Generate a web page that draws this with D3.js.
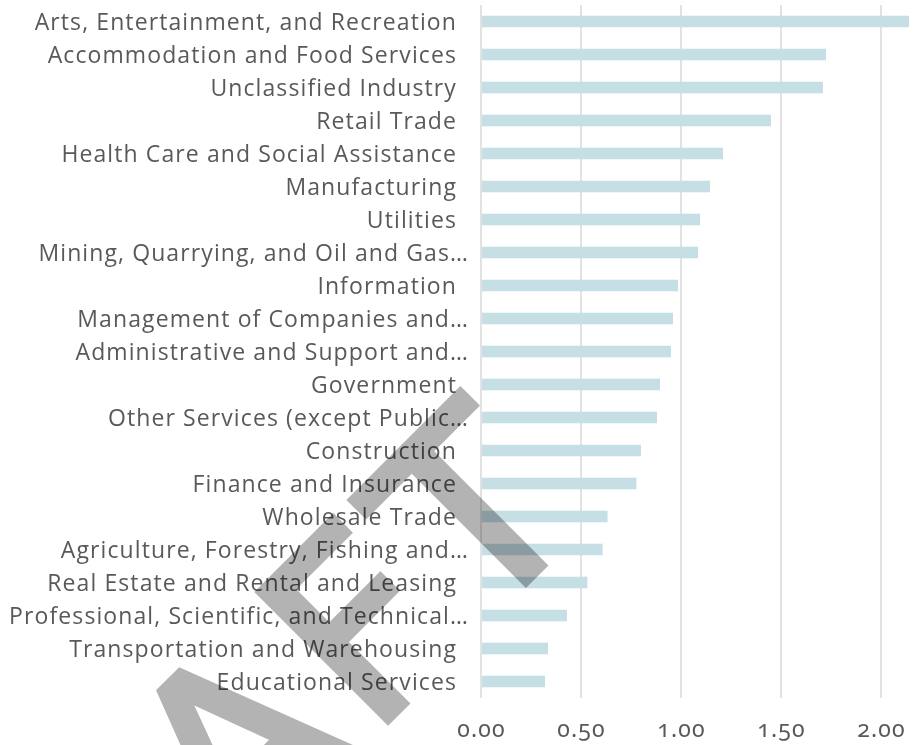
<!DOCTYPE html>
<html>
<head>
<meta charset="utf-8">
<script src="https://cdn.jsdelivr.net/npm/d3@7"></script>
<style>
  html, body { margin: 0; padding: 0; background: #fff; }
  svg { display: block; }
</style>
</head>
<body>
<svg id="chart" width="920" height="745"></svg>
<script>
const categories = [
  "Arts, Entertainment, and Recreation",
  "Accommodation and Food Services",
  "Unclassified Industry",
  "Retail Trade",
  "Health Care and Social Assistance",
  "Manufacturing",
  "Utilities",
  "Mining, Quarrying, and Oil and Gas…",
  "Information",
  "Management of Companies and…",
  "Administrative and Support and…",
  "Government",
  "Other Services (except Public…",
  "Construction",
  "Finance and Insurance",
  "Wholesale Trade",
  "Agriculture, Forestry, Fishing and…",
  "Real Estate and Rental and Leasing",
  "Professional, Scientific, and Technical…",
  "Transportation and Warehousing",
  "Educational Services"
];
const values = [2.14, 1.725, 1.71, 1.45, 1.21, 1.145, 1.095, 1.085, 0.985, 0.96, 0.95,
                0.895, 0.88, 0.80, 0.777, 0.633, 0.608, 0.532, 0.43, 0.335, 0.32];
const tickValues = [0, 0.5, 1.0, 1.5, 2.0];
const watermarkText = "DRAFT";

const svg = d3.select("#chart");
svg.append("rect").attr("width", 920).attr("height", 745).attr("fill", "#fff");

const x = d3.scaleLinear().domain([0, 2.2]).range([481, 921]);
const y = d3.scaleBand().domain(categories).range([5, 698]).paddingInner(0.65).paddingOuter(0.325);

// gridlines
svg.append("g").selectAll("line").data(tickValues).join("line")
  .attr("x1", d => x(d)).attr("x2", d => x(d))
  .attr("y1", 5).attr("y2", 698)
  .attr("stroke", "#d9d9d9").attr("stroke-width", 1.5);

// bars
svg.append("g").selectAll("rect").data(categories).join("rect")
  .attr("x", x(0) + 1)
  .attr("y", d => y(d))
  .attr("width", (d, i) => x(values[i]) - x(0) - 1)
  .attr("height", y.bandwidth())
  .attr("fill", "#c5dfe5");

// category labels
svg.append("g").selectAll("text").data(categories).join("text")
  .attr("x", d => d.endsWith("…") ? 469 : 457)
  .attr("y", d => y(d) + y.bandwidth() / 2)
  .attr("dy", "0.36em")
  .attr("text-anchor", "end")
  .attr("font-family", "'Open Sans', sans-serif")
  .attr("font-size", 23)
  .attr("letter-spacing", 1.1)
  .attr("fill", "#595959")
  .text(d => d);

// x axis tick labels
const xAxis = d3.axisBottom(x).tickValues(tickValues).tickFormat(d3.format(".2f")).tickSize(0).tickPadding(0);
const gx = svg.append("g").attr("transform", "translate(0,721)").call(xAxis);
gx.select(".domain").remove();
gx.selectAll("text")
  .attr("font-family", "'Noto Sans', sans-serif")
  .attr("font-size", 23)
  .attr("letter-spacing", 1.2)
  .attr("fill", "#595959")
  .style("font-variant-numeric", "oldstyle-nums");

// watermark
svg.append("text")
  .attr("transform", "translate(600,509) rotate(-45)")
  .attr("text-anchor", "end")
  .attr("font-family", "'DejaVu Sans', sans-serif")
  .attr("font-size", 250)
  .attr("letter-spacing", 16)
  .attr("fill", "#b3b3b3")
  .attr("stroke", "#b3b3b3")
  .attr("stroke-width", 7)
  .style("mix-blend-mode", "multiply")
  .text(watermarkText);
</script>
</body>
</html>
